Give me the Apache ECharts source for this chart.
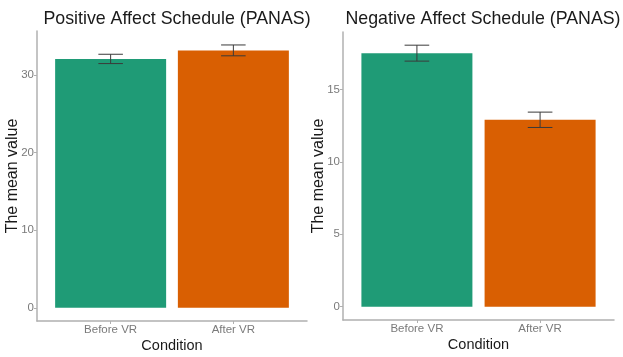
<!DOCTYPE html>
<html>
<head>
<meta charset="utf-8">
<script src="https://cdn.jsdelivr.net/npm/echarts@6/dist/echarts.min.js"></script>
<style>
  html, body { margin: 0; padding: 0; background: #fff; }
  #chart { width: 623px; height: 357px; }
</style>
</head>
<body>
<div id="chart"></div>
<script>
// data
const categories = ['Before VR', 'After VR'];
const barColors = ['#1f9b76', '#d95f02'];

const posTitle = 'Positive Affect Schedule (PANAS)';
const posMeans = [32.1, 33.2];
const posErr = [0.6, 0.7];
const posTicks = [0, 10, 20, 30];

const negTitle = 'Negative Affect Schedule (PANAS)';
const negMeans = [17.5, 12.9];
const negErr = [0.55, 0.53];
const negTicks = [0, 5, 10, 15];

const FONT = 'Liberation Sans, Arial, sans-serif';

function barData(means) {
  return means.map((v, i) => ({ value: [i + 1, v], itemStyle: { color: barColors[i] } }));
}
function errData(means, errs) {
  return means.map((v, i) => [i + 1, v - errs[i], v + errs[i]]);
}

function errorRender(params, api) {
  const x = api.value(0);
  const lo = api.coord([x, api.value(1)]);
  const hi = api.coord([x, api.value(2)]);
  const l = api.coord([x - 0.1, api.value(1)])[0];
  const r = api.coord([x + 0.1, api.value(1)])[0];
  const style = { stroke: '#3a3a3a', lineWidth: 1 };
  return {
    type: 'group',
    children: [
      { type: 'line', shape: { x1: lo[0], y1: lo[1], x2: hi[0], y2: hi[1] }, style },
      { type: 'line', shape: { x1: l, y1: lo[1], x2: r, y2: lo[1] }, style },
      { type: 'line', shape: { x1: l, y1: hi[1], x2: r, y2: hi[1] }, style }
    ]
  };
}

function xAxisOpt(gridIndex) {
  return {
    type: 'value',
    gridIndex,
    min: 0.4,
    max: 2.6,
    name: 'Condition',
    nameLocation: 'middle',
    nameGap: 17,
    nameMoveOverlap: false,
    nameTextStyle: { fontFamily: FONT, fontSize: 14.5, color: '#1a1a1a' },
    axisLine: { show: true, onZero: false, lineStyle: { color: '#b0b0b0', width: 1.5 } },
    axisTick: { show: true, length: 3, customValues: [1, 2], lineStyle: { color: '#b0b0b0' } },
    axisLabel: {
      customValues: [1, 2],
      margin: 3,
      fontFamily: FONT,
      fontSize: 11.5,
      color: '#7a7a7a',
      formatter: v => categories[Math.round(v) - 1]
    },
    splitLine: { show: false }
  };
}

function yAxisOpt(gridIndex, min, max, ticks) {
  return {
    type: 'value',
    gridIndex,
    min,
    max,
    name: 'The mean value',
    nameLocation: 'middle',
    nameGap: 16,
    nameMoveOverlap: false,
    nameTextStyle: { fontFamily: FONT, fontSize: 16, color: '#1a1a1a' },
    axisLine: { show: true, onZero: false, lineStyle: { color: '#b0b0b0', width: 1.5 } },
    axisTick: { show: true, length: 3, customValues: ticks, lineStyle: { color: '#b0b0b0' } },
    axisLabel: { customValues: ticks, margin: 3, fontFamily: FONT, fontSize: 11.5, color: '#7a7a7a' },
    splitLine: { show: false }
  };
}

const chart = echarts.init(document.getElementById('chart'), null, { renderer: 'canvas' });
chart.setOption({
  animation: false,
  backgroundColor: '#ffffff',
  title: [
    { text: posTitle, left: 172, top: 5, textAlign: 'center',
      textStyle: { fontFamily: FONT, fontSize: 17.8, fontWeight: 'normal', color: '#1a1a1a' } },
    { text: negTitle, left: 478, top: 5, textAlign: 'center',
      textStyle: { fontFamily: FONT, fontSize: 17.8, fontWeight: 'normal', color: '#1a1a1a' } }
  ],
  grid: [
    { left: 37, right: 316, top: 31, bottom: 36, outerBoundsMode: 'none' },
    { left: 343, right: 9, top: 32, bottom: 37, outerBoundsMode: 'none' }
  ],
  xAxis: [xAxisOpt(0), xAxisOpt(1)],
  yAxis: [
    yAxisOpt(0, -1.7, 35.7, posTicks),
    yAxisOpt(1, -0.92, 18.96, negTicks)
  ],
  series: [
    { type: 'bar', xAxisIndex: 0, yAxisIndex: 0, barWidth: 111, data: barData(posMeans) },
    { type: 'custom', xAxisIndex: 0, yAxisIndex: 0, renderItem: errorRender, data: errData(posMeans, posErr), z: 5 },
    { type: 'bar', xAxisIndex: 1, yAxisIndex: 1, barWidth: 111, data: barData(negMeans) },
    { type: 'custom', xAxisIndex: 1, yAxisIndex: 1, renderItem: errorRender, data: errData(negMeans, negErr), z: 5 }
  ]
});
</script>
</body>
</html>
